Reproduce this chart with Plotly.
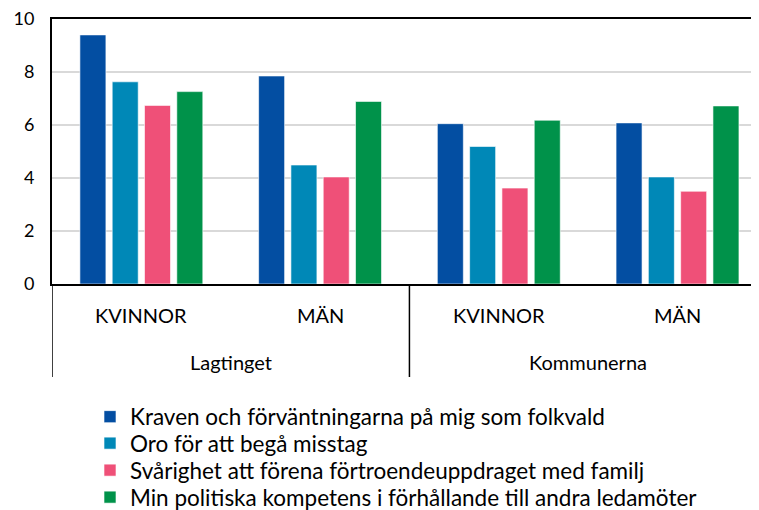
import plotly.graph_objects as go

groups = ["Lagtinget", "Lagtinget", "Kommunerna", "Kommunerna"]
genders = ["KVINNOR", "MÄN", "KVINNOR", "MÄN"]
series_names = [
    "Kraven och förväntningarna på mig som folkvald",
    "Oro för att begå misstag",
    "Svårighet att förena förtroendeuppdraget med familj",
    "Min politiska kompetens i förhållande till andra ledamöter",
]
kraven = [9.4, 7.85, 6.05, 6.08]
oro = [7.63, 4.49, 5.19, 4.04]
svarighet = [6.74, 4.04, 3.62, 3.5]
kompetens = [7.26, 6.89, 6.18, 6.72]
colors = ["#034EA2", "#0088B7", "#EF5078", "#00924A"]
yticks = [0, 2, 4, 6, 8, 10]

xcats = [f"{g} {s}" for g, s in zip(groups, genders)]
FONT = "Lato"
CAT_FS = 20
TICK_FS = 18
LEG_FS = 22.5

# page body has an 8px margin; figure is sized so the visible window matches
OFF = 8
W, H = 759 - OFF, 510 - OFF
PLOT_TOP, PLOT_BOTTOM = 19 - OFF, 284 - OFF
PLOT_H = PLOT_BOTTOM - PLOT_TOP

fig = go.Figure()
legend_ids = ["legend", "legend2", "legend3", "legend4"]
for name, vals, col, lid in zip(series_names, [kraven, oro, svarighet, kompetens], colors, legend_ids):
    fig.add_trace(go.Bar(x=xcats, y=vals, name=name, legend=lid,
                         marker=dict(color=col, line=dict(color="rgba(255,255,255,0.6)", width=1))))

annotations = []
for i, s in enumerate(genders):
    annotations.append(dict(x=xcats[i], y=-31 / PLOT_H, xref="x", yref="paper", text=s,
                            showarrow=False, yanchor="middle",
                            font=dict(size=CAT_FS, family=FONT, color="#000")))
top_levels = []
for g in groups:
    if g not in top_levels:
        top_levels.append(g)
for g in top_levels:
    idx = [i for i, gg in enumerate(groups) if gg == g]
    annotations.append(dict(x=sum(idx) / len(idx), y=-77.5 / PLOT_H, xref="x", yref="paper", text=g,
                            showarrow=False, yanchor="middle",
                            font=dict(size=CAT_FS, family=FONT, color="#000")))

shapes = []
bounds = [-0.5] + [i + 0.5 for i in range(len(groups) - 1) if groups[i] != groups[i + 1]]
for b in bounds:
    shapes.append(dict(type="line", xref="x", yref="paper", x0=b, x1=b, y0=0, y1=-93 / PLOT_H,
                       line=dict(color="#000", width=1.5)))

legend_layout = {}
row_centers = [417, 443.5, 470.5, 497.5]
for lid, c in zip(legend_ids, row_centers):
    legend_layout[lid] = dict(x=(90 - 52) / 707, y=(284 - c) / PLOT_H, xanchor="left", yanchor="middle",
                              font=dict(size=LEG_FS, family=FONT, color="#000"), itemwidth=30,
                              bgcolor="rgba(0,0,0,0)")

fig.update_layout(
    width=W, height=H,
    margin=dict(l=52 - OFF, r=0, t=PLOT_TOP, b=H - PLOT_BOTTOM, autoexpand=False),
    paper_bgcolor="white", plot_bgcolor="white",
    barmode="group", bargap=0.277, bargroupgap=0.195,
    font=dict(family=FONT, size=TICK_FS, color="#000"),
    xaxis=dict(range=[-0.5, 3.456], showticklabels=False, showline=True, linecolor="#000",
               linewidth=2, mirror=True, showgrid=False, zeroline=False),
    yaxis=dict(range=[0, 10], tickvals=yticks, showline=True, linecolor="#000", linewidth=2,
               gridcolor="#D9D9D9", gridwidth=1.5, zeroline=False, ticks="", ticklabelstandoff=12,
               ticklabeloverflow="allow", tickfont=dict(size=TICK_FS, family=FONT)),
    annotations=annotations, shapes=shapes, showlegend=True,
    **legend_layout,
)
fig.write_html("out.html")
